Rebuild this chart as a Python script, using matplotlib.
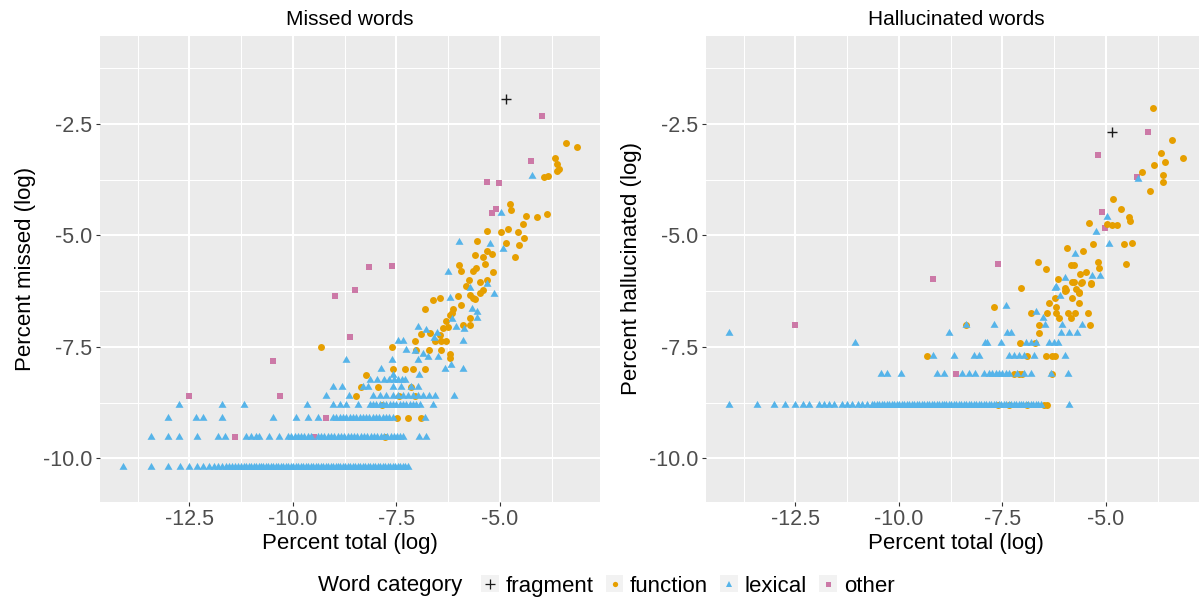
import matplotlib
matplotlib.use("Agg")
import matplotlib.pyplot as plt
from matplotlib.lines import Line2D
from matplotlib.patches import Rectangle
from matplotlib.legend_handler import HandlerBase

plt.rcParams['font.family'] = ['Liberation Sans', 'DejaVu Sans']

# ---------------- DATA ----------------
categories = ["fragment", "function", "lexical", "other"]
colors = {"fragment": "#1A1A1A", "function": "#E69F00", "lexical": "#56B4E9", "other": "#CC79A7"}

xticks = [-12.5, -10.0, -7.5, -5.0]
xticklabels = ["-12.5", "-10.0", "-7.5", "-5.0"]
yticks = [-10.0, -7.5, -5.0, -2.5]
yticklabels = ["-10.0", "-7.5", "-5.0", "-2.5"]

# ----- Missed words panel -----
miss_frag_x = [-4.84]
miss_frag_y = [-1.94]

miss_other_x = [-3.98, -4.24, -5.30, -5.02, -5.10, -5.18, -8.16, -7.60, -8.49, -8.98,
                -8.61, -10.47, -10.32, -12.52, -11.41, -9.19, -9.48]
miss_other_y = [-2.31, -3.33, -3.79, -3.82, -4.40, -4.49, -5.70, -5.68, -6.22, -6.37,
                -7.27, -7.82, -8.60, -8.60, -9.52, -9.10, -9.52]

miss_func_x = [-3.40, -3.13, -3.67, -3.63, -3.57, -3.63, -3.83, -3.93, -4.76, -4.74,
               -4.36, -4.11, -3.85, -4.44, -5.31, -4.98, -4.80, -4.56, -4.42, -4.84,
               -4.53, -4.64, -5.54, -5.31, -5.20, -5.61, -5.40, -5.98, -5.35, -5.57,
               -5.65, -5.93, -5.16, -5.75, -5.48, -5.31, -5.82, -5.40, -6.01, -6.45,
               -6.61, -5.73, -5.65,
               -9.33, -7.60, -7.06, -6.91, -6.82, -6.21, -6.13, -5.94, -5.61, -5.48,
               -5.90, -5.73, -5.73, -6.43, -6.21, -6.21, -6.41, -6.29, -6.57, -6.45,
               -6.37, -6.25, -6.69, -7.02, -6.71, -6.29, -6.15,
               -8.23, -8.36, -7.94, -7.14, -8.47, -7.44, -7.06, -7.84, -7.48, -7.22,
               -6.91, -7.78, -7.58, -7.30, -7.10, -6.81]
miss_func_y = [-2.93, -3.02, -3.27, -3.40, -3.50, -3.55, -3.66, -3.70, -4.30, -4.43,
               -4.56, -4.58, -4.53, -4.74, -4.90, -4.92, -4.86, -4.93, -5.06, -5.18,
               -5.22, -5.48, -5.13, -5.35, -5.42, -5.44, -5.48, -5.66, -5.64, -5.72,
               -5.80, -5.79, -5.82, -6.00, -6.04, -6.00, -6.14, -6.22, -6.36, -6.41,
               -6.45, -6.34, -6.41,
               -7.50, -7.50, -7.38, -7.22, -6.66, -6.79, -6.66, -6.56, -6.43, -6.30,
               -7.01, -7.01, -6.86, -7.57, -7.66, -7.74, -7.38, -7.38, -7.38, -7.23,
               -7.08, -7.05, -7.20, -7.57, -7.57, -6.93, -6.75,
               -8.13, -8.41, -8.41, -8.41, -8.60, -8.60, -8.60, -8.81, -9.10, -9.10,
               -9.10, -9.52, -8.00, -8.00, -8.00, -8.00]

# scattered lexical words (missed)
miss_lex_x = [-4.22, -4.96, -5.99, -5.24, -4.92, -6.25, -5.73, -5.32, -5.14, -6.21,
              -7.60, -6.98, -8.71, -7.26, -7.46, -7.33, -6.98, -6.78, -6.53, -5.89,
              -5.67, -5.54, -6.16, -6.05, -5.86, -6.59, -6.74, -6.49, -6.33, -6.17,
              -5.90, -6.86, -7.06, -7.86, -7.58, -6.95, -5.54]
miss_lex_y = [-3.67, -4.50, -5.14, -5.20, -5.30, -5.81, -6.19, -6.09, -6.32, -6.41,
              -7.80, -7.80, -7.80, -7.56, -7.36, -7.36, -7.06, -7.12, -7.18, -7.37,
              -6.66, -6.86, -6.88, -7.05, -7.11, -7.31, -7.72, -7.72, -8.00, -7.91,
              -8.00, -7.66, -7.59, -8.00, -8.13, -8.13, -6.71]
# lexical words sitting on discrete count rows (missed)
miss_lex_row_1020_x = [-14.11, -13.42, -13.02, -12.73, -12.50, -12.32, -12.16, -12.03, -11.91,
                       -11.81, -11.71, -11.62, -11.54, -11.46, -11.39, -11.32, -11.25, -11.19,
                       -11.13, -11.07, -11.01, -10.95, -10.89, -10.83, -10.77, -10.71, -10.65,
                       -10.59, -10.53, -10.47, -10.41, -10.35, -10.29, -10.23, -10.17, -10.11,
                       -10.05, -9.99, -9.93, -9.87, -9.81, -9.75, -9.69, -9.63, -9.57, -9.51,
                       -9.45, -9.39, -9.33, -9.27, -9.21, -9.15, -9.09, -9.03, -8.97, -8.91,
                       -8.85, -8.79, -8.73, -8.67, -8.61, -8.55, -8.49, -8.43, -8.37, -8.31,
                       -8.25, -8.19, -8.13, -8.07, -8.01, -7.95, -7.89, -7.83, -7.77, -7.71,
                       -7.65, -7.59, -7.53, -7.47, -7.41, -7.35, -7.29, -7.22]
miss_lex_row_952_x = [-13.43, -13.02, -12.74, -12.32, -11.81, -11.63, -11.13, -11.01, -10.89,
                      -10.81, -10.58, -10.34, -10.12, -10.04, -9.96, -9.88, -9.80, -9.72,
                      -9.64, -9.56, -9.40, -9.32, -9.24, -9.16, -9.08, -9.00, -8.92, -8.84,
                      -8.76, -8.68, -8.60, -8.52, -8.44, -8.36, -8.28, -8.20, -8.12, -8.04,
                      -7.96, -7.88, -7.80, -7.72, -7.64, -7.56, -7.48, -7.41, -7.34, -6.95,
                      -6.79]
miss_lex_row_910_x = [-13.02, -12.34, -12.18, -11.72, -10.47, -9.92, -9.64, -9.40, -9.03, -8.95,
                      -8.87, -8.79, -8.71, -8.63, -8.55, -8.47, -8.39, -8.31, -8.23, -8.15,
                      -8.07, -7.99, -7.91, -7.83, -7.75, -7.67, -7.58, -6.81]
miss_lex_row_881_x = [-12.74, -11.72, -11.19, -9.66, -9.03, -8.87, -8.71, -8.43, -8.14, -8.06,
                      -7.98, -7.90, -7.82, -7.74, -7.66, -7.58, -7.50, -7.42, -7.34, -7.26,
                      -7.18, -7.10, -7.02, -6.94, -6.61]
miss_lex_row_860_x = [-9.19, -8.64, -8.06, -7.90, -7.75, -7.58, -7.46, -7.34, -7.22, -7.10,
                      -6.97, -6.85, -6.72, -6.57, -6.10]
miss_lex_row_841_x = [-9.03, -8.81, -8.31, -8.19, -7.58, -7.38, -7.14, -6.98]
miss_lex_row_825_x = [-8.13, -7.97, -7.81, -7.68, -7.55, -7.47, -7.37, -7.30]
miss_lex_rows_y = [-10.20, -9.52, -9.10, -8.81, -8.60, -8.41, -8.25]

# ----- Hallucinated words panel -----
hall_frag_x = [-4.84]
hall_frag_y = [-2.67]

hall_other_x = [-3.98, -5.18, -4.25, -5.10, -5.02, -7.60, -9.18, -12.52, -8.61]
hall_other_y = [-2.68, -3.20, -3.68, -4.47, -4.83, -5.63, -5.98, -7.01, -8.11]

hall_func_x = [-3.85, -3.40, -3.67, -3.57, -3.13, -3.83, -3.63, -3.63, -4.13, -3.93,
               -4.82, -4.64, -4.44, -4.42, -5.40, -4.96, -4.84, -4.74, -5.31, -4.56,
               -4.36, -4.52, -5.93, -5.54, -6.64, -6.45, -7.06, -5.83, -5.77, -5.20,
               -5.16, -5.62, -5.48, -6.15, -5.81, -5.57, -5.36, -5.98, -5.73, -5.65,
               -5.98, -6.23, -5.81,
               -7.70, -6.82, -6.41, -6.21, -6.13, -5.91, -5.74, -5.44, -5.85, -6.37,
               -6.21, -5.66, -5.97, -5.65, -5.61, -5.36, -5.77,
               -8.37, -6.61, -5.38, -6.61, -7.08, -6.71, -9.33, -6.90, -6.45, -6.29,
               -6.23, -7.22, -7.10, -7.02, -6.29, -6.49, -6.41, -7.60, -7.34, -6.90]
hall_func_y = [-2.15, -2.86, -3.16, -3.36, -3.26, -3.41, -3.64, -3.79, -3.58, -4.00,
               -4.19, -4.41, -4.59, -4.67, -4.73, -4.74, -4.77, -4.77, -5.19, -5.19,
               -5.16, -5.63, -5.28, -5.34, -5.59, -5.76, -6.17, -5.67, -5.67, -5.59,
               -5.72, -5.87, -5.81, -5.98, -6.04, -6.04, -6.08, -6.19, -6.21, -6.30,
               -6.24, -6.41, -6.41,
               -6.61, -6.73, -6.73, -6.73, -6.86, -6.73, -6.73, -6.73, -6.86, -6.51,
               -6.60, -6.51, -6.22, -6.26, -6.07, -6.07, -6.04,
               -7.01, -7.01, -7.01, -7.18, -7.41, -7.41, -7.71, -7.71, -7.71, -7.71,
               -7.71, -8.11, -8.11, -8.11, -8.11, -8.80, -8.80, -8.80, -8.80, -8.80]

hall_lex_x = [-4.22, -4.96, -5.24, -4.92, -5.74, -5.99, -5.34, -5.15, -6.23, -6.11,
              -7.40, -6.69, -6.53, -6.21]
hall_lex_y = [-3.73, -4.58, -4.92, -5.20, -5.42, -5.96, -5.91, -5.91, -6.19, -6.37,
              -6.58, -6.71, -6.86, -6.16]
hall_lex_row_880_x = [-14.11, -13.43, -13.02, -12.74, -12.52, -12.32, -12.16, -11.94, -11.82,
                      -11.69, -11.57, -11.37, -11.25, -11.13, -10.98, -10.89, -10.77, -10.65,
                      -10.59, -10.53, -10.47, -10.41, -10.35, -10.29, -10.23, -10.17, -10.11,
                      -10.05, -9.99, -9.93, -9.87, -9.81, -9.75, -9.69, -9.63, -9.57, -9.51,
                      -9.45, -9.39, -9.33, -9.27, -9.21, -9.15, -9.09, -9.03, -8.97, -8.91,
                      -8.85, -8.79, -8.73, -8.67, -8.61, -8.55, -8.49, -8.43, -8.37, -8.31,
                      -8.25, -8.19, -8.13, -8.07, -8.01, -7.95, -7.89, -7.83, -7.77, -7.71,
                      -7.65, -7.59, -7.53, -7.47, -7.41, -7.35, -7.29, -7.23, -7.17, -7.11,
                      -7.05, -6.99, -6.93, -6.87, -6.81, -6.75, -6.69, -6.63, -6.57, -5.90]
hall_lex_row_811_x = [-10.44, -10.28, -9.96, -9.07, -8.91, -8.47, -8.31, -8.15, -7.94, -7.82,
                      -7.74, -7.66, -7.58, -7.50, -7.42, -7.34, -7.14, -6.98, -6.82, -6.33,
                      -5.91]
hall_lex_row_771_x = [-9.17, -8.67, -8.19, -8.07, -7.34, -7.22, -7.10, -6.98, -6.73, -5.99]
hall_lex_row_741_x = [-11.07, -7.92, -7.86, -7.54, -6.94, -6.82, -6.69, -6.37, -6.25, -6.15]
hall_lex_row_718_x = [-14.11, -8.78, -7.38, -7.30, -6.09, -5.90, -5.69]
hall_lex_row_701_x = [-8.37, -7.70, -6.47, -6.07, -5.57]
hall_lex_rows_y = [-8.80, -8.11, -7.71, -7.41, -7.18, -7.01]

# ---------------- PLOT ----------------
def build_rows(rows_x, rows_y, extra_x, extra_y):
    xs, ys = list(extra_x), list(extra_y)
    for rx, ry in zip(rows_x, rows_y):
        xs += rx
        ys += [ry] * len(rx)
    return xs, ys

miss_lex_all_x, miss_lex_all_y = build_rows(
    [miss_lex_row_1020_x, miss_lex_row_952_x, miss_lex_row_910_x, miss_lex_row_881_x,
     miss_lex_row_860_x, miss_lex_row_841_x, miss_lex_row_825_x],
    miss_lex_rows_y, miss_lex_x, miss_lex_y)
hall_lex_all_x, hall_lex_all_y = build_rows(
    [hall_lex_row_880_x, hall_lex_row_811_x, hall_lex_row_771_x, hall_lex_row_741_x,
     hall_lex_row_718_x, hall_lex_row_701_x],
    hall_lex_rows_y, hall_lex_x, hall_lex_y)

tri = [(0, 1.155), (-1, -0.577), (1, -0.577)]
styles = {
    "other": dict(marker="s", s=20),
    "function": dict(marker="o", s=25),
    "lexical": dict(marker=tri, s=44),
    "fragment": dict(marker="+", s=60, linewidths=1.0),
}

W, H = 1199, 603
fig = plt.figure(figsize=(W / 100, H / 100), dpi=100)
fig.patch.set_facecolor("white")
top, bottom = 36, 501.7
axL = fig.add_axes([100 / W, 1 - bottom / H, 500 / W, (bottom - top) / H])
axR = fig.add_axes([706 / W, 1 - bottom / H, 500 / W, (bottom - top) / H])

panels = [
    (axL, "Missed words", "Percent missed (log)",
     {"other": (miss_other_x, miss_other_y), "function": (miss_func_x, miss_func_y),
      "lexical": (miss_lex_all_x, miss_lex_all_y), "fragment": (miss_frag_x, miss_frag_y)}),
    (axR, "Hallucinated words", "Percent hallucinated (log)",
     {"other": (hall_other_x, hall_other_y), "function": (hall_func_x, hall_func_y),
      "lexical": (hall_lex_all_x, hall_lex_all_y), "fragment": (hall_frag_x, hall_frag_y)}),
]

for ax, title, ylab, data in panels:
    ax.set_facecolor("#EBEBEB")
    for sp in ax.spines.values():
        sp.set_visible(False)
    ax.set_xlim(-14.66, -2.58)
    ax.set_ylim(-10.975, -0.525)
    ax.set_xticks(xticks)
    ax.set_xticklabels(xticklabels)
    ax.set_yticks(yticks)
    ax.set_yticklabels(yticklabels)
    ax.set_xticks([-13.75, -11.25, -8.75, -6.25, -3.75], minor=True)
    ax.set_yticks([-8.75, -6.25, -3.75, -1.25], minor=True)
    ax.grid(True, which="major", color="white", linewidth=1.5)
    ax.grid(True, which="minor", color="white", linewidth=0.75)
    ax.set_axisbelow(True)
    ax.tick_params(which="major", length=2.9, width=0.8, color="#333333",
                   labelcolor="#4D4D4D", labelsize=15.5, pad=2.5)
    ax.tick_params(which="minor", length=0)
    for cat in ["other", "function", "lexical", "fragment"]:
        xs, ys = data[cat]
        st = dict(styles[cat])
        if cat == "fragment":
            ax.scatter(xs, ys, c=colors[cat], zorder=3, **st)
        else:
            ax.scatter(xs, ys, c=colors[cat], linewidths=0, zorder=3, **st)
    ax.set_title(title, fontsize=15, color="black", pad=8)
    ax.set_xlabel("Percent total (log)", fontsize=16, color="black", labelpad=2)
    ax.set_ylabel(ylab, fontsize=16, color="black", labelpad=5)


class KeyHandler(HandlerBase):
    def create_artists(self, legend, orig_handle, xdescent, ydescent, width, height,
                       fontsize, trans):
        r = Rectangle((-xdescent, -ydescent), width, height, facecolor="#F2F2F2",
                      edgecolor="none", transform=trans)
        m = Line2D([-xdescent + width / 2], [-ydescent + height / 2], linestyle="none",
                   marker=orig_handle.get_marker(), markersize=orig_handle.get_markersize(),
                   markerfacecolor=orig_handle.get_markerfacecolor(),
                   markeredgecolor=orig_handle.get_markeredgecolor(),
                   markeredgewidth=orig_handle.get_markeredgewidth(), transform=trans)
        return [r, m]


leg_markers = {"fragment": ("+", 6.5, 0.9), "function": ("o", 3.8, 0),
               "lexical": ("^", 4.4, 0), "other": ("s", 3.6, 0)}
handles = []
for cat in categories:
    mk, ms, mew = leg_markers[cat]
    handles.append(Line2D([], [], linestyle="none", marker=mk, markersize=ms,
                          markerfacecolor=colors[cat], markeredgecolor=colors[cat],
                          markeredgewidth=mew))

fig.text(318 / W, 1 - 586 / H, "Word category", fontsize=16, ha="left", va="center")
leg = fig.legend(handles, categories, loc="center left",
                 bbox_to_anchor=(481 / W, 1 - 586 / H), ncol=4, frameon=False,
                 fontsize=16, handler_map={Line2D: KeyHandler()},
                 handlelength=0.8, handleheight=0.8, handletextpad=0.3,
                 columnspacing=0.55, borderpad=0, borderaxespad=0)

fig.savefig("out.png", dpi=100)
